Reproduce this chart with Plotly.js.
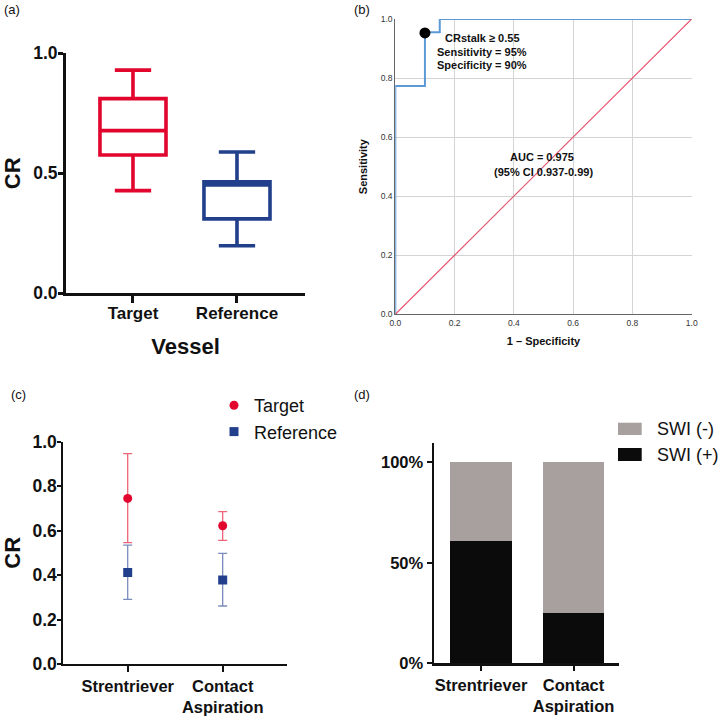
<!DOCTYPE html>
<html><head><meta charset="utf-8">
<script src="https://cdn.plot.ly/plotly-3.0.1.min.js"></script>
<style>html,body{margin:0;padding:0;background:#fff}#chart{width:718px;height:717px}</style>
</head><body><div id="chart"></div>
<script>
// ---------- Panel (a): box plot ----------
const vesselCats = ['Target', 'Reference'];
const boxLowerFence = [0.428, 0.198];
const boxQ1 = [0.576, 0.310];
const boxMedian = [0.678, 0.451];
const boxQ3 = [0.811, 0.465];
const boxUpperFence = [0.930, 0.589];
const boxColors = ['#E2062F', '#223F8C'];

// ---------- Panel (b): ROC curve ----------
const rocFPR = [0, 0, 0.1, 0.1, 0.15, 0.15, 1];
const rocTPR = [0, 0.773, 0.773, 0.955, 0.955, 1, 1];
const chanceX = [0, 0.5, 1];
const chanceY = [0, 0.5, 1];
const cutoffFPR = [0.1];
const cutoffTPR = [0.953];

// ---------- Panel (c): mean ± SD ----------
const deviceCats = ['Strentriever', 'Contact<br>Aspiration'];
const targetMean = [0.745, 0.622];
const targetUpper = [0.946, 0.685];
const targetLower = [0.546, 0.556];
const referenceMean = [0.412, 0.378];
const referenceUpper = [0.535, 0.498];
const referenceLower = [0.291, 0.261];

// ---------- Panel (d): stacked percentage bars ----------
const swiPositive = [61, 25];
const swiNegative = [39, 75];
const pctTickVals = [0, 50, 100];
const pctTickText = ['0%', '50%', '100%'];

const FONT = 'Liberation Sans, Arial, Helvetica, sans-serif';
const W = 718, H = 717;
const px = v => v / W;
const py = v => 1 - v / H;

const traces = [];
vesselCats.forEach((c, i) => {
  traces.push({
    type: 'box', x: [c], q1: [boxQ1[i]], median: [boxMedian[i]], q3: [boxQ3[i]],
    lowerfence: [boxLowerFence[i]], upperfence: [boxUpperFence[i]],
    boxpoints: false, line: {color: boxColors[i], width: 3.6},
    fillcolor: 'rgba(0,0,0,0)', width: 0.635, whiskerwidth: 0.55,
    xaxis: 'x', yaxis: 'y', showlegend: false, hoverinfo: 'skip'
  });
});

traces.push({type: 'scatter', mode: 'lines', x: rocFPR, y: rocTPR,
  line: {color: '#5C9AD6', width: 2}, xaxis: 'x2', yaxis: 'y2', showlegend: false});
traces.push({type: 'scatter', mode: 'lines', x: chanceX, y: chanceY,
  line: {color: '#E6506E', width: 1.2}, xaxis: 'x2', yaxis: 'y2', showlegend: false});
traces.push({type: 'scatter', mode: 'markers', x: cutoffFPR, y: cutoffTPR,
  marker: {color: '#000', size: 11}, xaxis: 'x2', yaxis: 'y2', showlegend: false});

traces.push({type: 'scatter', mode: 'markers', name: 'Target', x: deviceCats, y: targetMean,
  marker: {color: '#E2062F', size: 9, symbol: 'circle'},
  error_y: {type: 'data', symmetric: false,
    array: targetUpper.map((u, i) => u - targetMean[i]),
    arrayminus: targetLower.map((l, i) => targetMean[i] - l),
    color: '#EE6478', thickness: 1.3, width: 4.5},
  xaxis: 'x3', yaxis: 'y3', legend: 'legend'});
traces.push({type: 'scatter', mode: 'markers', name: 'Reference', x: deviceCats, y: referenceMean,
  marker: {color: '#223F8C', size: 9, symbol: 'square'},
  error_y: {type: 'data', symmetric: false,
    array: referenceUpper.map((u, i) => u - referenceMean[i]),
    arrayminus: referenceLower.map((l, i) => referenceMean[i] - l),
    color: '#7A8CBE', thickness: 1.3, width: 4.5},
  xaxis: 'x3', yaxis: 'y3', legend: 'legend'});

traces.push({type: 'bar', name: 'SWI (+)', x: deviceCats, y: swiPositive, width: 0.66,
  marker: {color: '#0B0B0B'}, xaxis: 'x4', yaxis: 'y4', showlegend: false});
traces.push({type: 'bar', name: 'SWI (-)', x: deviceCats, y: swiNegative, width: 0.66,
  marker: {color: '#A89F9F'}, xaxis: 'x4', yaxis: 'y4', showlegend: false});

const boldTick = size => ({family: FONT, size: size, color: '#111', weight: 'bold'});
const boldTitle = (text, size, standoff) => ({text: text, font: {family: FONT, size: size, color: '#111', weight: 'bold'}, standoff: standoff});

const layout = {
  width: W, height: H, margin: {l: 0, r: 0, t: 0, b: 0},
  paper_bgcolor: '#fff', plot_bgcolor: 'rgba(0,0,0,0)',
  font: {family: FONT}, barmode: 'stack', boxmode: 'overlay',
  xaxis: {domain: [px(66), px(305)], anchor: 'y', range: [-0.644, 1.654], type: 'category',
    showline: true, linewidth: 3, linecolor: '#111', ticks: 'outside', ticklen: 7, tickwidth: 3,
    tickcolor: '#111', tickfont: boldTick(17), ticklabelstandoff: -5, showgrid: false, zeroline: false,
    title: boldTitle('Vessel', 22, 17)},
  yaxis: {domain: [py(293.3), py(53.3)], anchor: 'x', range: [0, 1], tickvals: [0, 0.5, 1],
    tickformat: '.1f', showline: true, linewidth: 3, linecolor: '#111', ticks: 'outside',
    ticklen: 5, tickwidth: 3, tickcolor: '#111', tickfont: boldTick(17.5), ticklabelstandoff: -3,
    showgrid: false, zeroline: false, title: boldTitle('CR', 22, 9)},
  xaxis2: {domain: [px(395.3), px(691.7)], anchor: 'y2', range: [0, 1], dtick: 0.2,
    tickformat: '.1f', showline: true, linewidth: 1, linecolor: '#666', ticks: '',
    tickfont: {family: FONT, size: 8.5, color: '#333'}, showgrid: true, gridcolor: '#D4D4D4',
    gridwidth: 1, zeroline: false, title: boldTitle('1 – Specificity', 11, 10)},
  yaxis2: {domain: [py(314.3), py(19)], anchor: 'x2', range: [0, 1], dtick: 0.2,
    tickformat: '.1f', showline: true, linewidth: 1, linecolor: '#666', ticks: '',
    tickfont: {family: FONT, size: 8.5, color: '#333'}, showgrid: true, gridcolor: '#D4D4D4',
    gridwidth: 1, zeroline: false, title: boldTitle('Sensitivity', 11, 10)},
  xaxis3: {domain: [px(63.3), px(286.7)], anchor: 'y3', range: [-0.678, 1.674], type: 'category',
    showline: true, linewidth: 2, linecolor: '#111', ticks: 'outside', ticklen: 6, tickwidth: 2,
    tickcolor: '#111', tickfont: boldTick(16.5), showgrid: false, zeroline: false},
  yaxis3: {domain: [py(664), py(441.7)], anchor: 'x3', range: [0, 1], dtick: 0.2,
    tickformat: '.1f', showline: true, linewidth: 2, linecolor: '#111', ticks: 'outside',
    ticklen: 4, tickwidth: 2, tickcolor: '#111', tickfont: boldTick(17.5), ticklabelstandoff: -3,
    showgrid: false, zeroline: false, title: boldTitle('CR', 22, 7)},
  xaxis4: {domain: [px(434), px(619.3)], anchor: 'y4', range: [-0.508, 1.495], type: 'category',
    showline: true, linewidth: 2.5, linecolor: '#111', ticks: 'outside', ticklen: 5, tickwidth: 2,
    tickcolor: '#111', tickfont: boldTick(16.5), showgrid: false, zeroline: false},
  yaxis4: {domain: [py(663.3), py(442.7)], anchor: 'x4', range: [0, 109.75], tickmode: 'array',
    tickvals: pctTickVals, ticktext: pctTickText, showline: true, linewidth: 2.5, linecolor: '#111',
    ticks: 'outside', ticklen: 5, tickwidth: 2, tickcolor: '#111', tickfont: boldTick(16.5),
    showgrid: false, zeroline: false},
  legend: {x: px(214), xanchor: 'left', y: py(387), yanchor: 'top', bgcolor: 'rgba(0,0,0,0)',
    traceorder: 'normal', font: {family: FONT, size: 18, color: '#111'}, itemwidth: 30, tracegroupgap: 0},
  shapes: [
    {type: 'rect', xref: 'paper', yref: 'paper', x0: px(618), x1: px(641.7), y0: py(435), y1: py(422.7),
      fillcolor: '#A89F9F', line: {width: 0}},
    {type: 'rect', xref: 'paper', yref: 'paper', x0: px(618), x1: px(641.7), y0: py(461), y1: py(448),
      fillcolor: '#0B0B0B', line: {width: 0}}
  ],
  annotations: [
    {xref: 'paper', yref: 'paper', x: px(2), y: py(9.5), xanchor: 'left', yanchor: 'middle',
      text: '(a)', showarrow: false, font: {family: FONT, size: 13, color: '#111'}},
    {xref: 'paper', yref: 'paper', x: px(352), y: py(9.5), xanchor: 'left', yanchor: 'middle',
      text: '(b)', showarrow: false, font: {family: FONT, size: 13, color: '#111'}},
    {xref: 'paper', yref: 'paper', x: px(9), y: py(394.5), xanchor: 'left', yanchor: 'middle',
      text: '(c)', showarrow: false, font: {family: FONT, size: 13, color: '#111'}},
    {xref: 'paper', yref: 'paper', x: px(352), y: py(394.5), xanchor: 'left', yanchor: 'middle',
      text: '(d)', showarrow: false, font: {family: FONT, size: 13, color: '#111'}},
    {xref: 'x2', yref: 'y2', x: 0.293, y: 0.937, text: 'CRstalk ≥ 0.55', showarrow: false,
      font: {family: FONT, size: 11, color: '#111', weight: 'bold'}},
    {xref: 'x2', yref: 'y2', x: 0.293, y: 0.889, text: 'Sensitivity = 95%', showarrow: false,
      font: {family: FONT, size: 11, color: '#111', weight: 'bold'}},
    {xref: 'x2', yref: 'y2', x: 0.293, y: 0.844, text: 'Specificity = 90%', showarrow: false,
      font: {family: FONT, size: 11, color: '#111', weight: 'bold'}},
    {xref: 'x2', yref: 'y2', x: 0.496, y: 0.534, text: 'AUC = 0.975', showarrow: false,
      font: {family: FONT, size: 11, color: '#111', weight: 'bold'}},
    {xref: 'x2', yref: 'y2', x: 0.499, y: 0.481, text: '(95% CI 0.937-0.99)', showarrow: false,
      font: {family: FONT, size: 11, color: '#111', weight: 'bold'}},
    {xref: 'paper', yref: 'paper', x: px(655), y: py(429), xanchor: 'left', yanchor: 'middle',
      text: 'SWI (-)', showarrow: false, font: {family: FONT, size: 18, color: '#111'}},
    {xref: 'paper', yref: 'paper', x: px(655), y: py(454.5), xanchor: 'left', yanchor: 'middle',
      text: 'SWI (+)', showarrow: false, font: {family: FONT, size: 18, color: '#111'}}
  ]
};

Plotly.newPlot('chart', traces, layout, {displayModeBar: false, staticPlot: true});
</script></body></html>
